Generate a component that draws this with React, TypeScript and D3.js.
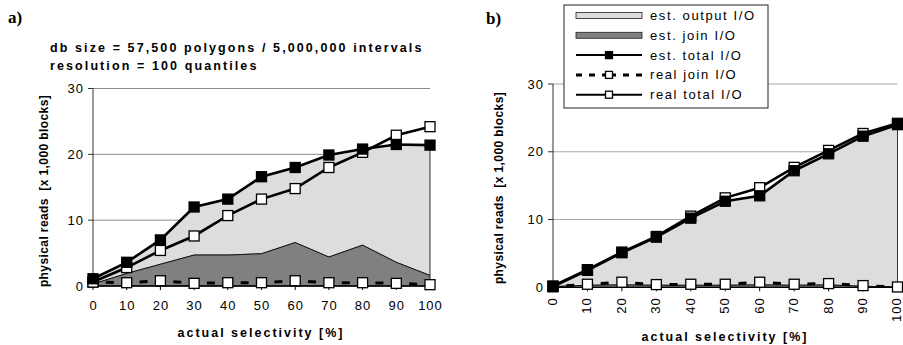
import React from 'react';
import * as d3 from 'd3';

// selectivity steps (x axis categories)
const selectivity = [0, 10, 20, 30, 40, 50, 60, 70, 80, 90, 100];
const yTicks = [0, 10, 20, 30];

// panel a)
const aEstJoin = [0.3, 1.9, 3.3, 4.7, 4.7, 4.9, 6.6, 4.4, 6.2, 3.6, 1.6];
const aEstTotal = [1.1, 3.6, 7.0, 12.0, 13.2, 16.6, 18.0, 19.9, 20.8, 21.5, 21.4];
const aRealJoin = [0.6, 0.5, 0.8, 0.4, 0.5, 0.5, 0.8, 0.5, 0.5, 0.4, 0.2];
const aRealTotal = [0.6, 2.8, 5.4, 7.6, 10.7, 13.2, 14.8, 18.0, 20.3, 22.9, 24.2];

// panel b)
const bEstJoin = [0.1, 0.3, 0.35, 0.3, 0.3, 0.3, 0.35, 0.3, 0.35, 0.15, 0.05];
const bEstTotal = [0.1, 2.5, 5.1, 7.4, 10.2, 12.7, 13.5, 17.2, 19.7, 22.3, 24.0];
const bRealJoin = [0.1, 0.45, 0.75, 0.4, 0.45, 0.45, 0.75, 0.45, 0.55, 0.25, 0.05];
const bRealTotal = [0.2, 2.6, 5.2, 7.5, 10.5, 13.2, 14.7, 17.7, 20.2, 22.7, 24.2];

const legendItems = ['est. output I/O', 'est. join I/O', 'est. total I/O', 'real join I/O', 'real total I/O'];

const SANS = "Arial, 'Liberation Sans', sans-serif";
const SERIF = "'Times New Roman', 'Liberation Serif', serif";
const LIGHT = '#dddddd';
const DARK = '#808080';

type PanelProps = {
	left: number;
	right: number;
	top: number;
	bottom: number;
	grid: string;
	rotated: boolean;
	estJoin: number[];
	estTotal: number[];
	realJoin: number[];
	realTotal: number[];
	yTitleX: number;
	yTitleY: number;
	xTitleX: number;
	xTitleY: number;
};

function Square({ x, y, s, fill }: { x: number; y: number; s: number; fill: string }) {
	return <rect x={x - s / 2} y={y - s / 2} width={s} height={s} fill={fill} stroke="#000" strokeWidth={1.3} />;
}

function Panel(p: PanelProps) {
	const x = d3.scaleLinear().domain([0, 100]).range([p.left, p.right]);
	const y = d3.scaleLinear().domain([0, 30]).range([p.bottom, p.top]);

	const darkArea = d3
		.area<number>()
		.x((d, i) => x(selectivity[i]))
		.y0(y(0))
		.y1(d => y(d));
	const lightArea = d3
		.area<number>()
		.x((d, i) => x(selectivity[i]))
		.y0((d, i) => y(p.estJoin[i]))
		.y1(d => y(d));
	const line = d3
		.line<number>()
		.x((d, i) => x(selectivity[i]))
		.y(d => y(d));

	// dashed join line: one dash centred between two markers
	const dashSegs = p.realJoin.slice(1).map((v, i) => {
		const x1 = x(selectivity[i]);
		const y1 = y(p.realJoin[i]);
		const x2 = x(selectivity[i + 1]);
		const y2 = y(v);
		const len = Math.hypot(x2 - x1, y2 - y1);
		const d = 8;
		return { x1, y1, x2, y2, dash: `0,${(len - d) / 2},${d},${len}` };
	});

	return (
		<g>
			{yTicks.filter(t => t > 0).map(t => (
				<line key={t} x1={p.left} x2={p.right} y1={y(t)} y2={y(t)} stroke={p.grid} strokeWidth={1} />
			))}
			<path d={lightArea(p.estTotal) || ''} fill={LIGHT} stroke="#000" strokeWidth={0.8} />
			<path d={darkArea(p.estJoin) || ''} fill={DARK} stroke="#000" strokeWidth={0.8} />
			{/* axes */}
			<line x1={p.left} x2={p.left} y1={y(0)} y2={y(30)} stroke="#333" strokeWidth={1} />
			{yTicks.map(t => (
				<g key={t}>
					<line x1={p.left - 5} x2={p.left} y1={y(t)} y2={y(t)} stroke="#333" />
					<text
						x={p.left - 9}
						y={y(t)}
						dy="0.36em"
						textAnchor="end"
						fontFamily={SANS}
						fontSize={13}
						letterSpacing={1}
					>
						{t}
					</text>
				</g>
			))}
			<line x1={p.left - 1} x2={p.right + 1} y1={y(0)} y2={y(0)} stroke="#000" strokeWidth={1.3} />
			{selectivity.map(s => (
				<g key={s}>
					<line x1={x(s)} x2={x(s)} y1={y(0)} y2={y(0) + 4} stroke="#000" />
					{p.rotated ? (
						<text
							transform={`translate(${x(s)},${y(0) + 10}) rotate(-90)`}
							dy="0.3em"
							textAnchor="end"
							fontFamily={SANS}
							fontSize={13}
							letterSpacing={1}
						>
							{s}
						</text>
					) : (
						<text x={x(s) + 0.5} y={y(0) + 24} textAnchor="middle" fontFamily={SANS} fontSize={13} letterSpacing={1}>
							{s}
						</text>
					)}
				</g>
			))}
			{/* series */}
			{dashSegs.map((s, i) => (
				<line key={i} x1={s.x1} y1={s.y1} x2={s.x2} y2={s.y2} stroke="#000" strokeWidth={3} strokeDasharray={s.dash} />
			))}
			{p.realJoin.map((v, i) => (
				<Square key={i} x={x(selectivity[i])} y={y(v)} s={10} fill="#fff" />
			))}
			<path d={line(p.realTotal) || ''} fill="none" stroke="#000" strokeWidth={2.6} />
			{p.realTotal.map((v, i) => (
				<Square key={i} x={x(selectivity[i])} y={y(v)} s={10} fill="#fff" />
			))}
			<path d={line(p.estTotal) || ''} fill="none" stroke="#000" strokeWidth={2.6} />
			{p.estTotal.map((v, i) => (
				<Square key={i} x={x(selectivity[i])} y={y(v)} s={10} fill="#000" />
			))}
			{/* titles */}
			<text
				transform={`translate(${p.yTitleX},${p.yTitleY}) rotate(-90)`}
				textAnchor="middle"
				fontFamily={SANS}
				fontWeight="bold"
				fontSize={12}
				letterSpacing={0.4}
				style={{ whiteSpace: 'pre' }}
			>
				{'physical reads  [x 1,000 blocks]'}
			</text>
			<text
				x={p.xTitleX}
				y={p.xTitleY}
				textAnchor="middle"
				fontFamily={SANS}
				fontWeight="bold"
				fontSize={12.5}
				letterSpacing={2}
			>
				actual selectivity [%]
			</text>
		</g>
	);
}

function Legend() {
	const left = 564;
	const top = 5;
	const rowY = (i: number) => 15.5 + i * 19.8;
	const sx0 = 576;
	const sx1 = 642;
	const mid = (sx0 + sx1) / 2;
	return (
		<g>
			<rect x={left} y={top} width={204} height={103} fill="#fff" stroke="#222" strokeWidth={1} />
			{legendItems.map((label, i) => {
				const cy = rowY(i);
				let sample: React.ReactNode = null;
				if (i < 2) {
					sample = (
						<rect x={sx0} y={cy - 3} width={sx1 - sx0} height={6} fill={i === 0 ? LIGHT : DARK} stroke="#222" strokeWidth={0.8} />
					);
				} else if (i === 3) {
					sample = (
						<g>
							<line x1={sx0} x2={mid} y1={cy} y2={cy} stroke="#000" strokeWidth={3} strokeDasharray="6,7" />
							<line x1={sx1} x2={mid} y1={cy} y2={cy} stroke="#000" strokeWidth={3} strokeDasharray="6,7" />
							<Square x={mid} y={cy} s={7} fill="#fff" />
						</g>
					);
				} else {
					sample = (
						<g>
							<line x1={sx0} x2={sx1} y1={cy} y2={cy} stroke="#000" strokeWidth={2} />
							<Square x={mid} y={cy} s={7} fill={i === 2 ? '#000' : '#fff'} />
						</g>
					);
				}
				return (
					<g key={label}>
						{sample}
						<text x={650} y={cy + 4.5} fontFamily={SANS} fontSize={13} letterSpacing={1.6}>
							{label}
						</text>
					</g>
				);
			})}
		</g>
	);
}

export default function App() {
	return (
		<svg width={903} height={345} style={{ position: 'absolute', left: 0, top: 0, background: '#fff' }}>
			<rect width={903} height={345} fill="#fff" />
			<text x={8} y={23} fontFamily={SERIF} fontWeight="bold" fontSize={17}>
				a)
			</text>
			<text x={486} y={24} fontFamily={SERIF} fontWeight="bold" fontSize={17}>
				b)
			</text>
			<text x={50} y={52} fontFamily={SANS} fontWeight="bold" fontSize={12.5} letterSpacing={2.1}>
				db size = 57,500 polygons / 5,000,000 intervals
			</text>
			<text x={50} y={70} fontFamily={SANS} fontWeight="bold" fontSize={12.5} letterSpacing={2.1}>
				resolution = 100 quantiles
			</text>
			<Panel
				left={93}
				right={430}
				top={88.5}
				bottom={286}
				grid="#8a8a8a"
				rotated={false}
				estJoin={aEstJoin}
				estTotal={aEstTotal}
				realJoin={aRealJoin}
				realTotal={aRealTotal}
				yTitleX={48}
				yTitleY={191}
				xTitleX={261}
				xTitleY={337}
			/>
			<Panel
				left={553}
				right={897.5}
				top={84}
				bottom={287.3}
				grid="#a8a8a8"
				rotated={true}
				estJoin={bEstJoin}
				estTotal={bEstTotal}
				realJoin={bRealJoin}
				realTotal={bRealTotal}
				yTitleX={503}
				yTitleY={188}
				xTitleX={725}
				xTitleY={341}
			/>
			<Legend />
		</svg>
	);
}
